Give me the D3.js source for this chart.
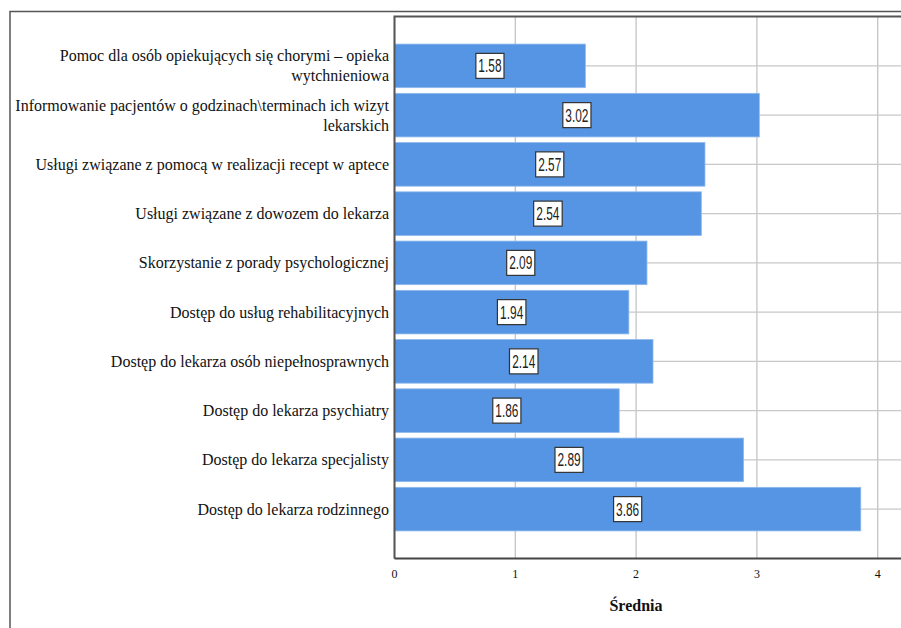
<!DOCTYPE html>
<html><head><meta charset="utf-8">
<script src="https://cdn.jsdelivr.net/npm/d3@7"></script>
<style>
html,body{margin:0;padding:0;background:#fff;}
svg{display:block;}
</style></head>
<body>
<svg id="c" width="901" height="628"></svg>
<script>
const categories = [
  "Pomoc dla osób opiekujących się chorymi – opieka wytchnieniowa",
  "Informowanie pacjentów o godzinach\\terminach ich wizyt lekarskich",
  "Usługi związane z pomocą w realizacji recept w aptece",
  "Usługi związane z dowozem do lekarza",
  "Skorzystanie z porady psychologicznej",
  "Dostęp do usług rehabilitacyjnych",
  "Dostęp do lekarza osób niepełnosprawnych",
  "Dostęp do lekarza psychiatry",
  "Dostęp do lekarza specjalisty",
  "Dostęp do lekarza rodzinnego"
];
const values = [1.58, 3.02, 2.57, 2.54, 2.09, 1.94, 2.14, 1.86, 2.89, 3.86];
const xTicks = [0, 1, 2, 3, 4];
const xTitle = "Średnia";

const svg = d3.select("#c");
const L = 394.5, T = 16.5, B = 558.5, R = 1000;
const x = d3.scaleLinear().domain([0, 4]).range([L, L + 4 * 120.8]);
const y = d3.scaleBand().domain(categories).range([T, B]).paddingOuter(0.56).paddingInner(0.115);

// outer frame
svg.append("path").attr("d", `M10,628 V11.5 H901`).attr("fill","none").attr("stroke","#555").attr("stroke-width",1.5);

// gridlines vertical
svg.append("g").selectAll("line").data(xTicks).join("line")
  .attr("x1", d => x(d)).attr("x2", d => x(d)).attr("y1", T).attr("y2", B)
  .attr("stroke", "#c4c4c4").attr("stroke-width", 1.3);
// gridlines horizontal at category centers
svg.append("g").selectAll("line").data(categories).join("line")
  .attr("x1", L).attr("x2", R).attr("y1", d => y(d) + y.bandwidth()/2).attr("y2", d => y(d) + y.bandwidth()/2)
  .attr("stroke", "#c8c8c8").attr("stroke-width", 1.3);

// bars
svg.append("g").selectAll("rect").data(values).join("rect")
  .attr("x", x(0)).attr("y", (d,i) => y(categories[i]))
  .attr("width", d => x(d) - x(0)).attr("height", y.bandwidth())
  .attr("fill", "#5595e3").attr("stroke", "#8fb9ee").attr("stroke-width", 0.8);

// plot box
svg.append("path").attr("d", `M${L},${B} V${T} H901`).attr("fill","none").attr("stroke","#555").attr("stroke-width",2);
svg.append("line").attr("x1", L).attr("x2", 901).attr("y1", B).attr("y2", B).attr("stroke","#444").attr("stroke-width",2);

// value labels
const sx = 0.66;
const vl = svg.append("g").selectAll("g").data(values).join("g")
  .attr("transform", (d,i) => `translate(${(x(0)+x(d))/2},${y(categories[i]) + y.bandwidth()/2})`);
vl.append("text").text(d => d.toFixed(2))
  .attr("text-anchor","middle").attr("dy","0.36em")
  .attr("font-family","'Liberation Sans Narrow','Liberation Sans',sans-serif").attr("font-size",18).attr("fill","#222")
  .attr("transform",`scale(${sx},1)`);
vl.each(function(){
  const g = d3.select(this);
  const t = g.select("text").node().getBBox();
  const w = t.width*sx + 5, h = 25;
  g.insert("rect","text").attr("x", -w/2).attr("y", -h/2).attr("width", w).attr("height", h)
    .attr("fill","#fff").attr("stroke","#333").attr("stroke-width",1.2);
});

// category labels with wrapping
const maxW = 378;
const lab = svg.append("g").attr("font-family","'Liberation Serif','Times New Roman',serif").attr("font-size",16).attr("fill","#111");
categories.forEach((c) => {
  const cy = y(c) + y.bandwidth()/2;
  const t = lab.append("text").attr("text-anchor","end").attr("x", 389);
  const words = c.split(" ");
  let lines = [], cur = [];
  const probe = lab.append("text");
  words.forEach(w => {
    const test = cur.concat([w]).join(" ");
    probe.text(test);
    if (probe.node().getComputedTextLength() > maxW && cur.length) { lines.push(cur.join(" ")); cur = [w]; }
    else cur.push(w);
  });
  lines.push(cur.join(" "));
  probe.remove();
  const lh = 20;
  lines.forEach((ln, k) => {
    t.append("tspan").attr("x", 389).attr("y", cy + (k - (lines.length-1)/2)*lh).attr("dy","0.35em").text(ln);
  });
});

// x tick labels
svg.append("g").selectAll("text").data(xTicks).join("text")
  .attr("x", d => x(d)).attr("y", 578).attr("text-anchor","middle")
  .attr("font-family","'Liberation Serif',serif").attr("font-size",12).attr("fill","#111").text(d => d);

// axis title
svg.append("text").attr("x", 636).attr("y", 611).attr("text-anchor","middle")
  .attr("font-family","'Liberation Serif',serif").attr("font-weight","bold").attr("font-size",16).attr("fill","#111").text(xTitle);
</script>
</body></html>
